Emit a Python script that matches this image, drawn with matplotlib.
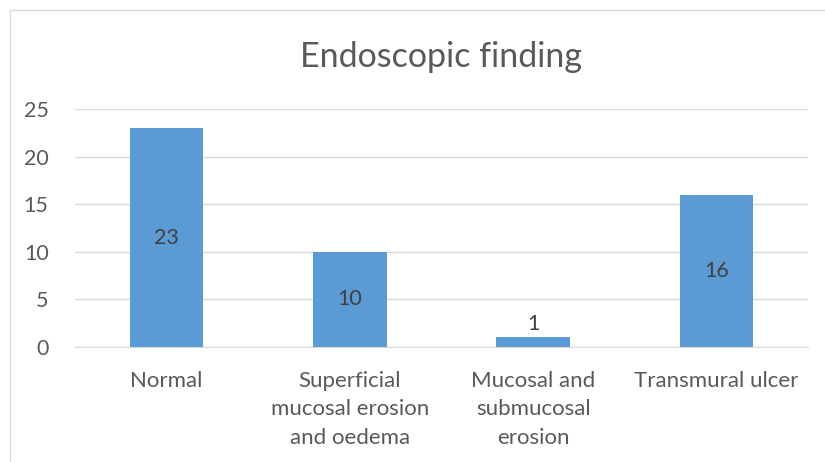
import matplotlib.pyplot as plt
from matplotlib.lines import Line2D

categories = ['Normal', 'Superficial\nmucosal erosion\nand oedema', 'Mucosal and\nsubmucosal\nerosion', 'Transmural ulcer']
counts = [23, 10, 1, 16]
yticks = [0, 5, 10, 15, 20, 25]

plt.rcParams['font.family'] = ['Lato', 'DejaVu Sans']

fig = plt.figure(figsize=(8.25, 4.62), dpi=100)
ax = fig.add_axes([75 / 825, 1 - 347 / 462, 733 / 825, 238 / 462])

x = list(range(len(categories)))
ax.bar(x, counts, width=0.4, color='#5B9BD5', zorder=3)

for xi, v in zip(x, counts):
    if v >= 5:
        ax.text(xi, v / 2, str(v), ha='center', va='center', fontsize=15.5, color='#404040', zorder=4)
    else:
        ax.text(xi, v + 0.4, str(v), ha='center', va='bottom', fontsize=15.5, color='#404040', zorder=4)

ax.set_xlim(-0.5, len(categories) - 0.5)
ax.set_ylim(0, 25)
ax.set_yticks(yticks)
ax.set_xticks(x)
ax.set_xticklabels(categories, fontsize=16, color='#595959', linespacing=1.55)
ax.tick_params(axis='y', labelsize=15.5, labelcolor='#595959', length=0, pad=19)
ax.tick_params(axis='x', length=0, pad=17)
ax.grid(axis='y', color='#D9D9D9', linewidth=1, zorder=0)
for s in ['top', 'right', 'left']:
    ax.spines[s].set_visible(False)
ax.spines['bottom'].set_color('#D9D9D9')

fig.text(0.5 * (75 + 808) / 825, 1 - 57 / 462, 'Endoscopic finding', ha='center', va='center',
         fontsize=24.5, color='#595959')

# chart border
fig.add_artist(Line2D([10 / 825, 10 / 825], [0, 1 - 10 / 462], transform=fig.transFigure, color='#D9D9D9', linewidth=1))
fig.add_artist(Line2D([10 / 825, 1], [1 - 10 / 462, 1 - 10 / 462], transform=fig.transFigure, color='#D9D9D9', linewidth=1))

fig.savefig('out.png', dpi=100)
